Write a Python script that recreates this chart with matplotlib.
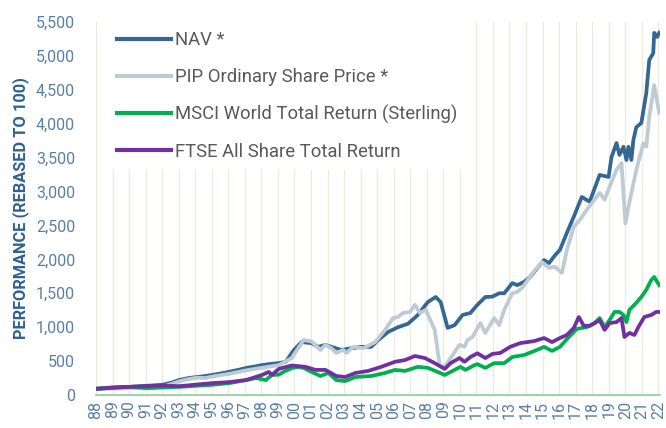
import matplotlib.pyplot as plt

plt.rcParams["font.family"] = ["Roboto", "DejaVu Sans"]

# x positions are decimal years (label "88" = start of 1988)
nav_years = [1988.0, 1989.0, 1990.0, 1991.0, 1992.0, 1992.6, 1993.0, 1993.6, 1994.1, 1994.6,
             1995.0, 1995.6, 1996.0, 1996.6, 1997.1, 1997.6, 1998.0, 1998.6, 1999.05, 1999.47,
             1999.95, 2000.43, 2001.03, 2001.45, 2001.87, 2002.23, 2002.83, 2003.44, 2004.04, 2004.64,
             2005.06, 2005.66, 2006.26, 2006.86, 2007.46, 2008.06, 2008.54, 2008.84, 2009.26, 2009.68,
             2010.16, 2010.64, 2011.06, 2011.54, 2011.96, 2012.38, 2012.68, 2013.17, 2013.47, 2013.89,
             2014.25, 2014.67, 2015.09, 2015.39, 2015.75, 2016.05, 2016.45, 2016.89, 2017.37, 2017.85,
             2018.45, 2018.99, 2019.17, 2019.47, 2019.65, 2019.89, 2020.07, 2020.19, 2020.37, 2020.49,
             2020.67, 2020.97, 2021.27, 2021.45, 2021.69, 2021.75, 2021.93, 2022.05]
nav_values = [95, 110, 120, 135, 150, 185, 220, 250, 265, 280,
              295, 320, 340, 370, 400, 420, 440, 460, 470, 490,
              660, 780, 765, 710, 740, 710, 665, 690, 710, 710,
              810, 930, 1000, 1050, 1180, 1370, 1445, 1370, 990, 1030,
              1180, 1210, 1330, 1445, 1450, 1500, 1500, 1650, 1620, 1670,
              1740, 1870, 1990, 1945, 2060, 2140, 2380, 2630, 2920, 2850,
              3245, 3215, 3510, 3715, 3540, 3660, 3465, 3660, 3465, 3760,
              3950, 4010, 4450, 4940, 5040, 5340, 5280, 5340]

pip_years = [1988.0, 1989.0, 1990.0, 1991.0, 1992.0, 1992.6, 1993.0, 1993.6, 1994.1, 1994.6,
             1995.0, 1996.0, 1997.0, 1998.0, 1999.05, 1999.83, 2000.55, 2001.03, 2001.57, 2001.87,
             2002.23, 2002.53, 2002.95, 2003.14, 2003.56, 2004.16, 2004.88, 2005.48, 2005.96, 2006.26,
             2006.56, 2006.98, 2007.28, 2007.58, 2007.94, 2008.48, 2008.78, 2009.08, 2009.44, 2009.98,
             2010.28, 2010.46, 2010.76, 2011.24, 2011.54, 2012.08, 2012.38, 2012.68, 2013.17, 2013.47,
             2013.77, 2014.19, 2014.55, 2014.97, 2015.39, 2015.75, 2016.17, 2016.47, 2016.89, 2017.25,
             2017.67, 2018.45, 2018.75, 2019.05, 2019.47, 2019.77, 2020.01, 2020.19, 2020.37, 2020.67,
             2021.09, 2021.27, 2021.45, 2021.75, 2022.05]
pip_values = [85, 95, 100, 110, 125, 165, 200, 235, 255, 250,
              270, 310, 360, 400, 440, 545, 810, 790, 665, 740,
              690, 620, 665, 620, 710, 690, 780, 960, 1135, 1150,
              1210, 1225, 1330, 1210, 1255, 960, 440, 415, 545, 740,
              710, 810, 855, 1060, 915, 1135, 1030, 1255, 1500, 1520,
              1580, 1725, 1845, 1960, 1875, 1890, 1800, 2140, 2480, 2580,
              2730, 2980, 2880, 3070, 3320, 3420, 2530, 2770, 2980, 3320,
              3710, 3660, 4100, 4570, 4160]

msci_years = [1988.0, 1990.04, 1991.06, 1993.04, 1995.03, 1996.05, 1997.07, 1997.67, 1998.27, 1998.63,
              1999.05, 1999.45, 1999.83, 2000.2, 2000.55, 2001.03, 2001.57, 2002.05, 2002.53, 2003.07,
              2003.68, 2004.64, 2005.48, 2006.08, 2006.68, 2007.46, 2008.06, 2008.66, 2009.08, 2009.68,
              2010.04, 2010.34, 2010.88, 2011.06, 2011.54, 2012.08, 2012.68, 2013.17, 2013.89, 2014.67,
              2015.09, 2015.57, 2016.05, 2016.59, 2017.07, 2017.67, 2018.15, 2018.45, 2018.75, 2019.05,
              2019.35, 2019.65, 2019.89, 2020.07, 2020.25, 2020.67, 2020.97, 2021.27, 2021.57, 2021.75,
              2022.05]
msci_values = [90, 120, 100, 120, 150, 175, 220, 250, 220, 295,
               300, 355, 395, 415, 400, 340, 280, 325, 220, 205,
               265, 280, 325, 370, 355, 415, 400, 340, 295, 370,
               415, 370, 440, 455, 400, 470, 470, 560, 590, 665,
               710, 650, 710, 855, 975, 1000, 1060, 1135, 1000, 1105,
               1225, 1225, 1180, 1075, 1255, 1360, 1445, 1550, 1695, 1740,
               1620]

ftse_years = [1988.0, 1989.0, 1990.04, 1992.0, 1993.04, 1995.03, 1996.05, 1997.07, 1998.03, 1998.45,
              1998.63, 1999.05, 1999.83, 2000.67, 2001.27, 2001.87, 2002.53, 2003.07, 2003.68, 2004.46,
              2005.24, 2006.08, 2006.68, 2007.28, 2007.88, 2008.48, 2009.08, 2009.44, 2009.98, 2010.28,
              2010.64, 2011.06, 2011.54, 2011.96, 2012.44, 2013.04, 2013.65, 2014.49, 2015.09, 2015.57,
              2016.05, 2016.47, 2016.89, 2017.19, 2017.49, 2017.85, 2018.15, 2018.45, 2018.75, 2019.05,
              2019.47, 2019.77, 2019.95, 2020.25, 2020.55, 2020.79, 2021.15, 2021.57, 2021.87, 2022.05]
ftse_values = [90, 110, 120, 140, 130, 175, 190, 220, 295, 340,
               295, 385, 435, 415, 370, 370, 280, 265, 325, 355,
               415, 490, 515, 575, 545, 470, 385, 470, 545, 490,
               560, 615, 545, 605, 620, 710, 765, 795, 840, 780,
               840, 885, 990, 1150, 1020, 1020, 1060, 1105, 960, 1060,
               1075, 1135, 855, 915, 885, 1000, 1150, 1180, 1225, 1225]

series_names = ["NAV *", "PIP Ordinary Share Price *",
                "MSCI World Total Return (Sterling)", "FTSE All Share Total Return"]
series_colors = ["#346892", "#bfcbd4", "#00b050", "#7030a0"]

tick_years = list(range(1988, 2023))
tick_labels = ["88", "89", "90", "91", "92", "93", "94", "95", "96", "97", "98", "99",
               "00", "01", "02", "03", "04", "05", "06", "07", "08", "09", "10", "11",
               "12", "13", "14", "15", "16", "17", "18", "19", "20", "21", "22"]
y_ticks = [0, 500, 1000, 1500, 2000, 2500, 3000, 3500, 4000, 4500, 5000, 5500]
y_tick_labels = ["0", "500", "1,000", "1,500", "2,000", "2,500", "3,000",
                 "3,500", "4,000", "4,500", "5,000", "5,500"]

fig = plt.figure(figsize=(6.66, 4.28), dpi=100)
ax = fig.add_axes([96 / 666, 1 - 395 / 428, 564 / 666, 373 / 428])

for yr in tick_years:
    ax.axvline(yr, color="#eeebdd", lw=1.0, zorder=0)

data = [(nav_years, nav_values), (pip_years, pip_values),
        (msci_years, msci_values), (ftse_years, ftse_values)]
for (xs, ys), name, color in zip(data, series_names, series_colors):
    ax.plot(xs, ys, color=color, lw=2.7, label=name, solid_joinstyle="round", zorder=3)

ax.set_xlim(1988, 2022.1)
ax.set_ylim(0, 5500)
ax.set_xticks(tick_years)
ax.set_xticklabels(tick_labels, rotation=90)
ax.set_yticks(y_ticks)
ax.set_yticklabels(y_tick_labels)
ax.tick_params(axis="both", length=0, colors="#5b80a5", labelsize=11.5)
ax.tick_params(axis="y", pad=15)
ax.tick_params(axis="x", pad=4)

for side in ["top", "right", "left"]:
    ax.spines[side].set_visible(False)
ax.spines["bottom"].set_color("#8dcb9b")
ax.spines["bottom"].set_linewidth(1.2)

ax.set_ylabel("PERFORMANCE (REBASED TO 100)", fontsize=11.8, fontweight="bold",
              color="#2f6190", labelpad=5)

leg = ax.legend(loc="upper left", bbox_to_anchor=(12 / 564, 1.0), borderaxespad=0,
                fontsize=13.3, frameon=True, facecolor="white", edgecolor="none",
                framealpha=1, fancybox=False, borderpad=0.5, handlelength=2.9,
                handletextpad=0.22, labelspacing=1.02)
for line in leg.get_lines():
    line.set_linewidth(3.0)
for text in leg.get_texts():
    text.set_color("#595959")
leg.set_zorder(2)

fig.savefig("out.png", dpi=100)
plt.close(fig)
